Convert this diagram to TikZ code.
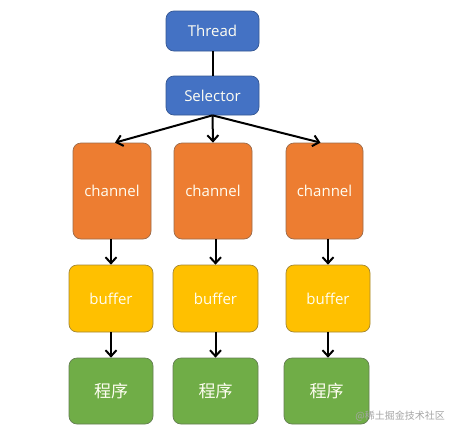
\documentclass[tikz,border=0pt]{standalone}
\usepackage{fontspec}
\setmainfont{Open Sans}
\newfontfamily\cjk{Noto Sans CJK SC}
\usetikzlibrary{arrows.meta,calc}
\definecolor{cblue}{HTML}{4472C4}
\definecolor{corange}{HTML}{ED7D31}
\definecolor{cyellow}{HTML}{FFC000}
\definecolor{cgreen}{HTML}{70AD47}
\tikzset{
  box/.style={rounded corners=8pt, line width=0.7pt, text=white!95!yellow, font=\fontsize{15}{18}\selectfont, inner sep=0pt},
  bluebox/.style={box, fill=cblue, draw=cblue!75!black, minimum width=93pt, minimum height=40pt},
  chanbox/.style={box, fill=corange, draw=corange!55!black!80, minimum width=78pt, minimum height=96pt},
  bufbox/.style={box, fill=cyellow, draw=cyellow!55!black!80, minimum width=84pt, minimum height=67pt},
  progbox/.style={box, fill=cgreen, draw=cgreen!55!black!80, minimum width=85pt, minimum height=66pt, font=\cjk\fontsize{17}{19}\selectfont},
  conn/.style={line width=2pt, black},
  arr/.style={conn, -{Straight Barb[length=6pt,width=11pt]}},
}
\begin{document}
\begin{tikzpicture}[x=1pt,y=-1pt]
\useasboundingbox[fill=white] (0,0) rectangle (457,434);
\node[bluebox] (thread) at (212.5,31) {Thread};
\node[bluebox, minimum height=39pt] (sel) at (212.5,95.5) {Selector};
\node[chanbox] (ch1) at (112,191) {channel};
\node[chanbox] (ch2) at (213,191) {channel};
\node[chanbox, minimum width=77pt] (ch3) at (324.5,191) {channel};
\node[bufbox] (b1) at (111,298.5) {buffer};
\node[bufbox, minimum width=85pt] (b2) at (215.5,298.5) {buffer};
\node[bufbox] (b3) at (328,298.5) {buffer};
\node[progbox, minimum width=84pt] (p1) at (111,391) {程序};
\node[progbox] (p2) at (215.5,391) {程序};
\node[progbox] (p3) at (326.5,391) {程序};
\node[text=black!35, font=\cjk\fontsize{10}{12}\selectfont, anchor=east, inner sep=0pt] (wm) at (445,416) {@稀土掘金技术社区};
\draw[conn] (thread) -- (sel);
\draw[arr] (sel.south) -- ($(ch1.north)+(3,0)$);
\draw[arr] (sel.south) -- (ch2.north);
\draw[arr] (sel.south) -- ($(ch3.north)+(-4,0)$);
\draw[arr] (b1.north |- ch1.south) -- (b1.north);
\draw[arr] (b2.north |- ch2.south) -- (b2.north);
\draw[arr] (b3.north |- ch3.south) -- (b3.north);
\draw[arr] (b1.south) -- (p1.north -| b1.south);
\draw[arr] (b2.south) -- (p2.north -| b2.south);
\draw[arr] (b3.south) -- (p3.north -| b3.south);
\end{tikzpicture}
\end{document}
